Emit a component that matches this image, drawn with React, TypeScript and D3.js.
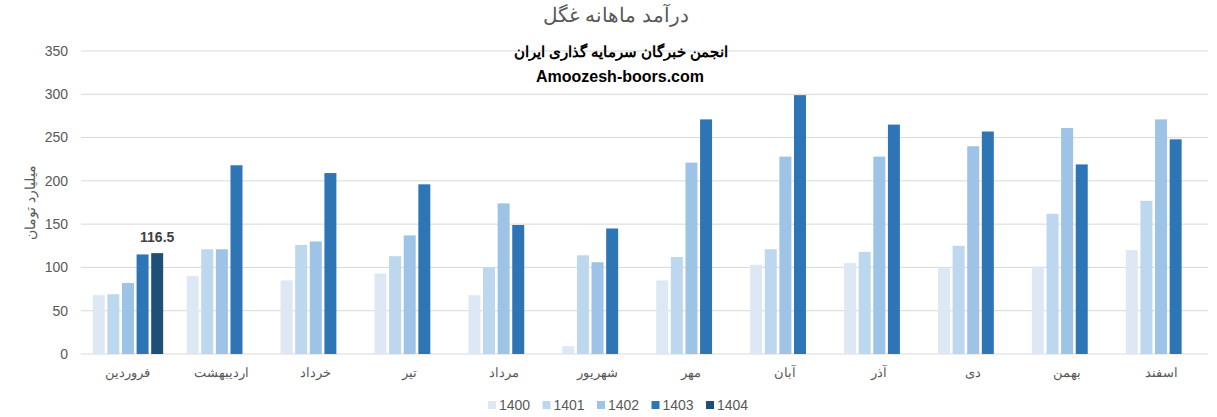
import React from "react";
import * as d3 from "d3";

const months = ["فروردین", "اردیبهشت", "خرداد", "تیر", "مرداد", "شهریور", "مهر", "آبان", "آذر", "دی", "بهمن", "اسفند"];
const years = ["1400", "1401", "1402", "1403", "1404"];
const v1400 = [68, 90, 85, 93, 68, 9, 85, 103, 105, 100, 101, 120];
const v1401 = [69, 121, 126, 113, 100, 114, 112, 121, 118, 125, 162, 177];
const v1402 = [82, 121, 130, 137, 174, 106, 221, 228, 228, 240, 261, 271];
const v1403 = [115, 218, 209, 196, 149, 145, 271, 299, 265, 257, 219, 248];
const v1404: (number | null)[] = [116.5, null, null, null, null, null, null, null, null, null, null, null];
const yTicks = [0, 50, 100, 150, 200, 250, 300, 350];
const colors = ["#dee8f5", "#bdd7ee", "#9dc3e6", "#2e75b6", "#1f4e79"];

const W = 1217;
const H = 417;
const margin = { top: 51, right: 9, bottom: 63, left: 81 };

export default function App() {
  const series = [v1400, v1401, v1402, v1403, v1404];
  const x = d3.scaleBand<string>().domain(months).range([margin.left, W - margin.right]).paddingInner(0.25).paddingOuter(0.125);
  const xs = d3.scaleBand<string>().domain(years).range([0, x.bandwidth()]).paddingInner(0.18);
  const y = d3.scaleLinear().domain([0, 350]).range([H - margin.bottom, margin.top]);
  const font = "'Liberation Sans', Arial, sans-serif";

  const legendItemW = 54.5;
  const legendStart = 488;

  return (
    <svg width={W} height={H} style={{ position: "absolute", left: 0, top: 0, background: "#fff" }} fontFamily={font}>
      <text x={616} y={22} textAnchor="middle" fontSize={20} fill="#595959">درآمد ماهانه غگل</text>
      {yTicks.map((t) => (
        <g key={t}>
          <line x1={margin.left} x2={W - margin.right} y1={y(t)} y2={y(t)} stroke="#d9d9d9" strokeWidth={1} />
          <text x={68} y={y(t)} dy="0.35em" textAnchor="end" fontSize={14} fill="#595959">{t}</text>
        </g>
      ))}
      <text transform={`translate(35,${y(175)}) rotate(-90)`} textAnchor="middle" fontSize={14} fill="#595959">میلیارد تومان</text>
      {months.map((m, i) => (
        <g key={m} transform={`translate(${x(m)},0)`}>
          {series.map((s, j) => {
            const v = s[i];
            if (v == null) return null;
            return (
              <rect key={j} x={xs(years[j])} y={y(v)} width={xs.bandwidth()} height={y(0) - y(v)} fill={colors[j]} />
            );
          })}
          <text x={x.bandwidth() / 2} y={377} textAnchor="middle" fontSize={13} fill="#595959">{m}</text>
        </g>
      ))}
      <text x={x(months[0])! + xs(years[4])! + xs.bandwidth() / 2} y={y(v1404[0] as number) - 11} textAnchor="middle" fontSize={14} fontWeight="bold" fill="#404040">116.5</text>
      <text x={621} y={57} textAnchor="middle" fontSize={15} fontWeight="bold" fill="#000">انجمن خبرگان سرمایه گذاری ایران</text>
      <text x={620} y={82} textAnchor="middle" fontSize={16} fontWeight="bold" fill="#000">Amoozesh-boors.com</text>
      {years.map((yr, j) => (
        <g key={yr} transform={`translate(${legendStart + j * legendItemW},405)`}>
          <rect x={0} y={-4} width={8} height={8} fill={colors[j]} />
          <text x={11} y={0} dy="0.35em" fontSize={14} fill="#595959">{yr}</text>
        </g>
      ))}
    </svg>
  );
}
